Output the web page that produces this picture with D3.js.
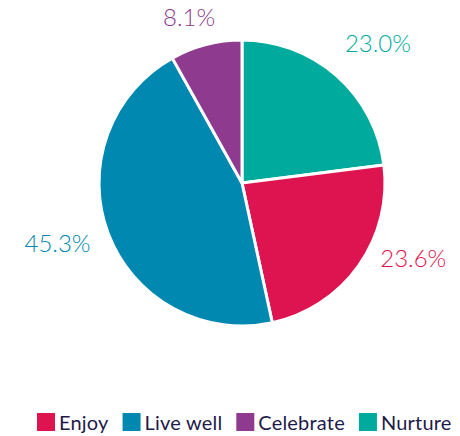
<!DOCTYPE html>
<html>
<head>
<meta charset="utf-8">
<script src="https://cdn.jsdelivr.net/npm/d3@7"></script>
<style>
  body { margin: 0; background: #fff; }
  svg { display: block; font-family: Lato, "Noto Sans", sans-serif; }
</style>
</head>
<body>
<div id="chart"></div>
<script>
let w = 460;
let h = 436;

// slices, clockwise from 12 o'clock
let categories = ["Nurture", "Enjoy", "Live well", "Celebrate"];
let values = [23.0, 23.6, 45.3, 8.1];
let colors = ["#00ab9d", "#de1450", "#0088b0", "#8e3b8f"];
let legendOrder = ["Enjoy", "Live well", "Celebrate", "Nurture"];

let cx = 242;
let cy = 183;
let radius = 143;
// label placement: angle shift (degrees) from slice middle, and distance from centre
let labelShift = [2.8, -11.6, 2.7, -3.1];
let labelDist = [195, 187, 194, 174];

let svg = d3.select("#chart")
  .append("svg")
    .attr("width", w)
    .attr("height", h);

let data = categories.map((c, i) => ({ name: c, value: values[i], color: colors[i] }));

let pie = d3.pie().sort(null).value(d => d.value);
let arcs = pie(data);

let arcMaker = d3.arc().innerRadius(0).outerRadius(radius);

let pieGroup = svg.append("g").attr("transform", "translate(" + cx + "," + cy + ")");

pieGroup.selectAll(".slice").data(arcs).enter()
  .append("path")
    .attr("class", "slice")
    .attr("d", arcMaker)
    .attr("fill", d => d.data.color)
    .attr("stroke", "#fff")
    .attr("stroke-width", 3)
    .attr("stroke-linejoin", "round");

function labelPos(d, i) {
  let a = (d.startAngle + d.endAngle) / 2 + labelShift[i] * Math.PI / 180;
  let r = labelDist[i];
  return "translate(" + (Math.sin(a) * r) + "," + (-Math.cos(a) * r) + ")";
}

pieGroup.selectAll(".lbl").data(arcs).enter()
  .append("text")
    .attr("class", "lbl")
    .attr("transform", labelPos)
    .attr("dy", "0.36em")
    .attr("text-anchor", "middle")
    .attr("font-size", 24)
    .attr("font-weight", 300)
    .attr("fill", d => d.data.color)
    .text(d => d.data.value.toFixed(1) + "%");

// legend
let legend = svg.append("g").attr("transform", "translate(37,413)");
let xPos = 0;
legendOrder.forEach(name => {
  let i = categories.indexOf(name);
  let g = legend.append("g").attr("transform", "translate(" + xPos + ",0)");
  g.append("rect").attr("width", 18).attr("height", 18).attr("fill", colors[i]);
  let t = g.append("text")
    .attr("x", 22)
    .attr("y", 17)
    .attr("font-size", 20)
    .attr("letter-spacing", 0.2)
    .attr("fill", "#1e1b4b")
    .text(name);
  xPos += 22 + t.node().getComputedTextLength() + 14;
});
</script>
</body>
</html>
